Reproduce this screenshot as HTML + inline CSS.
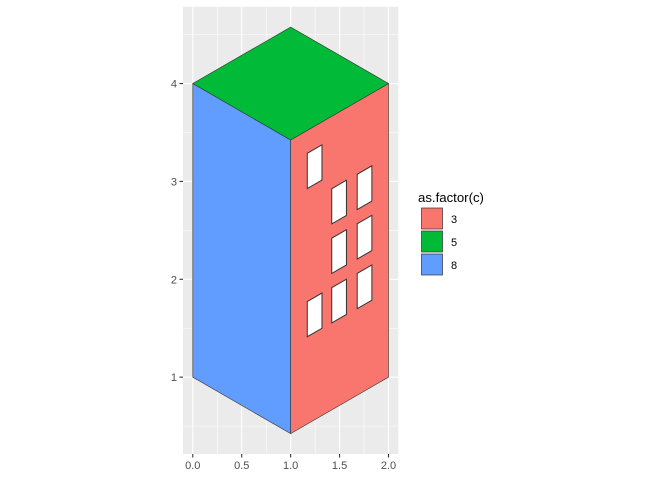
<!DOCTYPE html>
<html><head><meta charset="utf-8"><style>
body{margin:0;background:#fff;font-family:"Liberation Sans",Arial,sans-serif}
svg text{font-family:"Liberation Sans",Arial,sans-serif}
</style></head><body>
<svg id="c" width="672" height="480" viewBox="0 0 672 480" xmlns="http://www.w3.org/2000/svg"></svg>
<script>
const S=0.577;
const faceCategories=["3","5","8"];
const faceColors=["#F8766D","#00BA38","#619CFF"];
const blueFace=[[0,1],[0,4],[1,4-S],[1,1-S]];
const redFace=[[1,1-S],[1,4-S],[2,4],[2,1]];
const greenFace=[[0,4],[1,4+S],[2,4],[1,4-S]];
const windowX=[1.17,1.42,1.42,1.42,1.68,1.68,1.68,1.17];
const windowY=[2.927,2.566,2.06,1.554,2.713,2.207,1.70,1.413];
const windowW=0.15, windowH=0.36;
const xTicks=[0,0.5,1,1.5,2];
const xTickLabels=["0.0","0.5","1.0","1.5","2.0"];
const yTicks=[1,2,3,4];
const yTickLabels=["1","2","3","4"];

const xMin=-0.1,xMax=2.1,yMin=0.215,yMax=4.785;
const L=183,R=398.3,T=6.7,B=454;
const X=v=>L+(v-xMin)/(xMax-xMin)*(R-L);
const Y=v=>B-(v-yMin)/(yMax-yMin)*(B-T);
const svg=document.getElementById('c');
const NS="http://www.w3.org/2000/svg";
function mk(tag,attrs,parent){const e=document.createElementNS(NS,tag);for(const k in attrs)e.setAttribute(k,attrs[k]);(parent||svg).appendChild(e);return e;}

const bg=mk('rect',{x:L,y:T,width:R-L,height:B-T,fill:'#EBEBEB'});


// grid
for(let v=0.25;v<2.1;v+=0.5){const g=mk('line',{x1:X(v),x2:X(v),y1:T,y2:B,stroke:'#fff','stroke-width':0.55});

}
for(let v=0.5;v<4.8;v+=1){const g=mk('line',{x1:L,x2:R,y1:Y(v),y2:Y(v),stroke:'#fff','stroke-width':0.55});

}
xTicks.forEach((v,i)=>{const g=mk('line',{x1:X(v),x2:X(v),y1:T,y2:B,stroke:'#fff','stroke-width':1.1});


const t=mk('line',{x1:X(v),x2:X(v),y1:B,y2:B+3.5,stroke:'#333','stroke-width':1.1});


const l=mk('text',{x:X(v),y:B+15,'text-anchor':'middle','font-size':11,fill:'#4D4D4D'});l.textContent=xTickLabels[i];

});
yTicks.forEach((v,i)=>{const g=mk('line',{x1:L,x2:R,y1:Y(v),y2:Y(v),stroke:'#fff','stroke-width':1.1});


const t=mk('line',{x1:L-3.5,x2:L,y1:Y(v),y2:Y(v),stroke:'#333','stroke-width':1.1});


const l=mk('text',{x:L-6,y:Y(v)+4,'text-anchor':'end','font-size':11,fill:'#4D4D4D'});l.textContent=yTickLabels[i];

});
function poly(pts,fill,name,sw){const p=mk('polygon',{points:pts.map(q=>X(q[0])+','+Y(q[1])).join(' '),fill:fill,stroke:'#333','stroke-width':sw||0.6});

}
poly(blueFace,faceColors[2],'left-face-8');
poly(redFace,faceColors[0],'right-face-3');
poly(greenFace,faceColors[1],'top-face-5');
windowX.forEach((x,i)=>{const y=windowY[i];
poly([[x,y],[x,y+windowH],[x+windowW,y+windowH+windowW*S],[x+windowW,y+windowW*S]],'#fff','window',1);});
// legend
const lt=mk('text',{x:418,y:202,'font-size':13.2,fill:'#000'});lt.textContent='as.factor(c)';


const order=[0,1,2];
order.forEach((k,i)=>{const y=208+i*23;
const r=mk('rect',{x:421.5,y:y,width:21,height:21,fill:faceColors[k],stroke:'#333','stroke-width':0.7});


const t=mk('text',{x:451,y:y+15,'font-size':11,fill:'#000'});t.textContent=faceCategories[k];

});
</script>
</body></html>
